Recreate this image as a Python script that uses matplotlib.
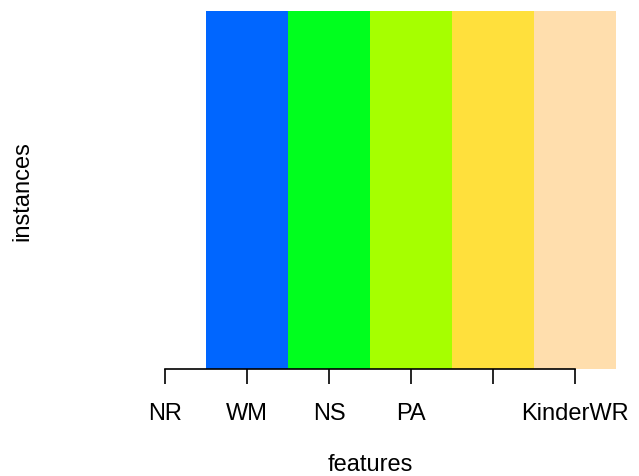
import numpy as np
import matplotlib
matplotlib.use("Agg")
import matplotlib.pyplot as plt
from matplotlib.colors import ListedColormap

# features along the x axis; NR has no value and stays blank
features = ["NR", "WM", "NS", "PA", "", "KinderWR"]
feature_values = [np.nan, 1, 2, 3, 4, 5]
palette = ["#0066FF", "#00FF1E", "#A6FF00", "#FFE03C", "#FFDEAD"]

plt.rcParams["font.family"] = ["Liberation Sans", "DejaVu Sans"]

W, H = 639, 477
fig = plt.figure(figsize=(W / 100, H / 100), dpi=100)
ax = fig.add_axes([124 / W, (H - 370) / H, 492 / W, 358 / H])

n = len(features)
x_edges = np.arange(n + 1) + 0.5
y_edges = np.array([0.0, 1.0])
grid = np.ma.masked_invalid(np.array([feature_values], dtype=float))
ax.pcolormesh(x_edges, y_edges, grid, cmap=ListedColormap(palette),
              vmin=0.5, vmax=5.5, shading="flat")

ax.set_xlim(0.5, n + 0.5)
ax.set_ylim(0, 1)
for side in ("top", "right", "left"):
    ax.spines[side].set_visible(False)
ax.spines["bottom"].set_bounds(1, n)
ax.spines["bottom"].set_linewidth(1.2)
ax.set_yticks([])
ax.set_xticks(np.arange(1, n + 1))
ax.set_xticklabels(features, fontsize=17)
ax.tick_params(axis="x", length=10.5, width=1.2, pad=13)

fig.text(370 / W, 1 - 465 / H, "features", ha="center", va="center", fontsize=17)
fig.text(22 / W, 1 - 191 / H, "instances", ha="center", va="center",
         rotation=90, fontsize=17)

fig.savefig("out.png", dpi=100)
